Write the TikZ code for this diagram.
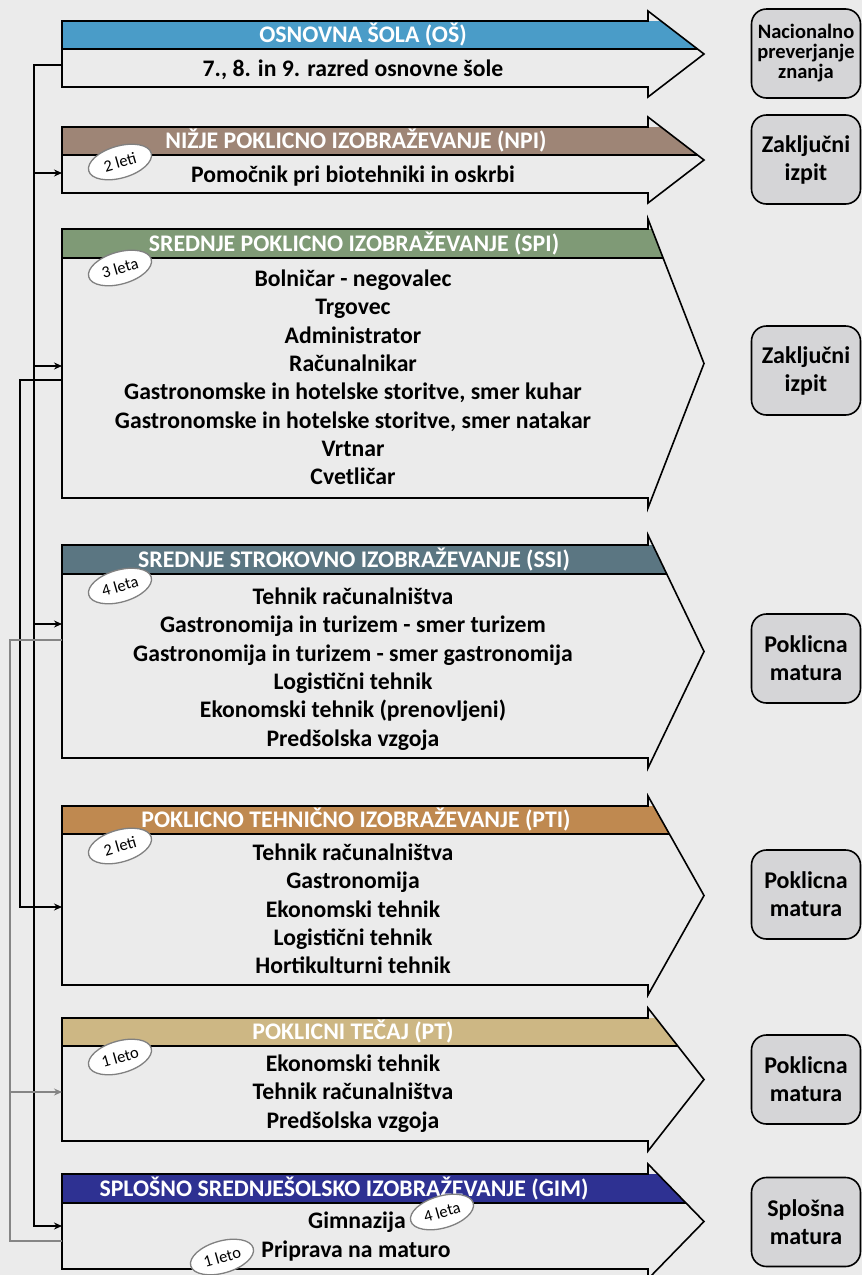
\documentclass[tikz,border=0pt]{standalone}
\usepackage{fontspec}
\setmainfont{Carlito}
\usetikzlibrary{positioning,shapes.geometric,arrows.meta}
\definecolor{bgcol}{HTML}{EBEBEB}
\definecolor{examcol}{HTML}{D5D5D7}
\definecolor{oscol}{HTML}{4A9CC8}
\definecolor{npicol}{HTML}{9E8576}
\definecolor{spicol}{HTML}{7F9A76}
\definecolor{ssicol}{HTML}{5B7682}
\definecolor{pticol}{HTML}{BF8950}
\definecolor{ptcol}{HTML}{CDB784}
\definecolor{gimcol}{HTML}{2E3192}
\definecolor{linkgray}{HTML}{858585}

\begin{document}
\begin{tikzpicture}[x=1pt,y=-1pt,
    link/.style={line width=1.6pt},
    glink/.style={line width=1.5pt,draw=linkgray},
    tip/.style={-{Stealth[length=8pt,width=7pt]}},
    head/.style={text=white,inner sep=0pt,font=\fontsize{23.8}{27}\selectfont\bfseries},
    item/.style={anchor=base,inner sep=0pt,font=\fontsize{23.7}{28.3}\selectfont\bfseries},
    years/.style={ellipse,draw=gray,fill=white,line width=1.3pt,minimum width=65pt,minimum height=32pt,inner sep=0pt,rotate=16,font=\fontsize{16.5}{16.5}\selectfont},
    exam/.style={rounded corners=15pt,draw,line width=1.6pt,fill=examcol,minimum width=109pt,minimum height=89pt,align=center,
        execute at begin node={\rule{0pt}{22pt}},font=\fontsize{24}{28}\selectfont\bfseries}]
    \fill[bgcol] (0,0) rectangle (862,1275);
    \useasboundingbox (0,0) rectangle (862,1275);

    \foreach \nm/\ty/\by/\dy/\col/\hx/\txt in {os/21/49/87/oscol/363/{OSNOVNA ŠOLA (OŠ)},
        npi/127/155/193/npicol/356/{NIŽJE POKLICNO IZOBRAŽEVANJE (NPI)},
        spi/229/258/498/spicol/354/{SREDNJE POKLICNO IZOBRAŽEVANJE (SPI)},
        ssi/545/574/758/ssicol/354/{SREDNJE STROKOVNO IZOBRAŽEVANJE (SSI)},
        pti/806/834/985/pticol/356/{POKLICNO TEHNIČNO IZOBRAŽEVANJE (PTI)},
        pt/1018/1046/1141/ptcol/353/{POKLICNI TEČAJ (PT)},
        gim/1174/1203/1269/gimcol/344/{SPLOŠNO SREDNJEŠOLSKO IZOBRAŽEVANJE (GIM)}} {
        \pgfmathsetmacro{\my}{(\ty+\dy)/2}
        \begin{scope}
            \clip (62,\ty) -- (648,\ty) -- (648,\ty-10) -- (704,\my) -- (648,\dy+10) -- (648,\dy) -- (62,\dy) -- cycle;
            \fill[\col] (62,\ty) rectangle (710,\by);
            \draw[link] (62,\by) -- (710,\by);
        \end{scope}
        \draw[link,line join=miter] (62,\ty) -- (648,\ty) -- (648,\ty-10) -- (704,\my) -- (648,\dy+10) -- (648,\dy) -- (62,\dy) -- cycle;
        \node[head] (\nm-head) at (\hx,{(\ty+\by)/2}) {\txt};
        }

    \node[item] (os-1) at (353,76.5) {7., 8. in 9. razred osnovne šole};
    \node[item] (npi-1) at (353,182.5) {Pomočnik pri biotehniki in oskrbi};
    \foreach \it [count=\i] in {Bolničar - negovalec,Trgovec,Administrator,Računalnikar,
        {Gastronomske in hotelske storitve, smer kuhar},{Gastronomske in hotelske storitve, smer natakar},Vrtnar,Cvetličar}
        \node[item] (spi-\i) at (353,{286.5+28.3*(\i-1)}) {\it};
    \foreach \it [count=\i] in {Tehnik računalništva,Gastronomija in turizem - smer turizem,
        Gastronomija in turizem - smer gastronomija,Logistični tehnik,Ekonomski tehnik (prenovljeni),Predšolska vzgoja}
        \node[item] (ssi-\i) at (353,{604.5+28.3*(\i-1)}) {\it};
    \foreach \it [count=\i] in {Tehnik računalništva,Gastronomija,Ekonomski tehnik,Logistični tehnik,Hortikulturni tehnik}
        \node[item] (pti-\i) at (353,{860.5+28.3*(\i-1)}) {\it};
    \foreach \it [count=\i] in {Ekonomski tehnik,Tehnik računalništva,Predšolska vzgoja}
        \node[item] (pt-\i) at (353,{1071.5+28.3*(\i-1)}) {\it};
    \node[item] (gim-1) at (357,1228.5) {Gimnazija};
    \node[item] (gim-2) at (356,1257) {Priprava na maturo};

    \node[years] (npi-years) at (120,162) {2 leti};
    \node[years] (spi-years) at (120,268) {3 leta};
    \node[years] (ssi-years) at (120,586) {4 leta};
    \node[years] (pti-years) at (120,846) {2 leti};
    \node[years] (pt-years) at (120,1057) {1 leto};
    \node[years] (gim-years) at (442,1212) {4 leta};
    \node[years] (prep-years) at (222,1257) {1 leto};

    \node[exam,font=\fontsize{20.5}{20}\selectfont\bfseries,execute at begin node={\rule{0pt}{17pt}}] (os-exam) at (806,53.5) {Nacionalno\\preverjanje\\znanja};
    \node[exam] (npi-exam) at (806,159.5) {Zaključni\\izpit};
    \node[exam] (spi-exam) at (806,370.5) {Zaključni\\izpit};
    \node[exam] (ssi-exam) at (806,658.5) {Poklicna\\matura};
    \node[exam] (pti-exam) at (806,894.5) {Poklicna\\matura};
    \node[exam] (pt-exam) at (806,1079.5) {Poklicna\\matura};
    \node[exam] (gim-exam) at (806,1222) {Splošna\\matura};

    \coordinate (os-w) at (62,65);
    \coordinate (npi-w) at (62,173);
    \coordinate (spi-w) at (62,366);
    \coordinate (spi-out) at (62,380);
    \coordinate (ssi-w) at (62,624);
    \coordinate (ssi-out) at (62,640);
    \coordinate (pti-w) at (62,907);
    \coordinate (pt-w) at (62,1092);
    \coordinate (gim-w) at (62,1226);
    \coordinate (gim-out) at (62,1241);
    \coordinate (bus-a) at (34,0);
    \coordinate (bus-c) at (10,0);

    \draw[link,tip] (os-w) -| (bus-a |- gim-w) -- (gim-w);
    \foreach \to in {npi-w,spi-w,ssi-w}
        \draw[link,tip] (bus-a |- \to) -- (\to);
    \draw[link,tip] (spi-out) -- ++(-42,0) |- (pti-w);
    \draw[glink] (ssi-out) -| (bus-c |- gim-out) -- (gim-out);
    \draw[glink,tip] (bus-c |- pt-w) -- (pt-w);
\end{tikzpicture}
\end{document}
